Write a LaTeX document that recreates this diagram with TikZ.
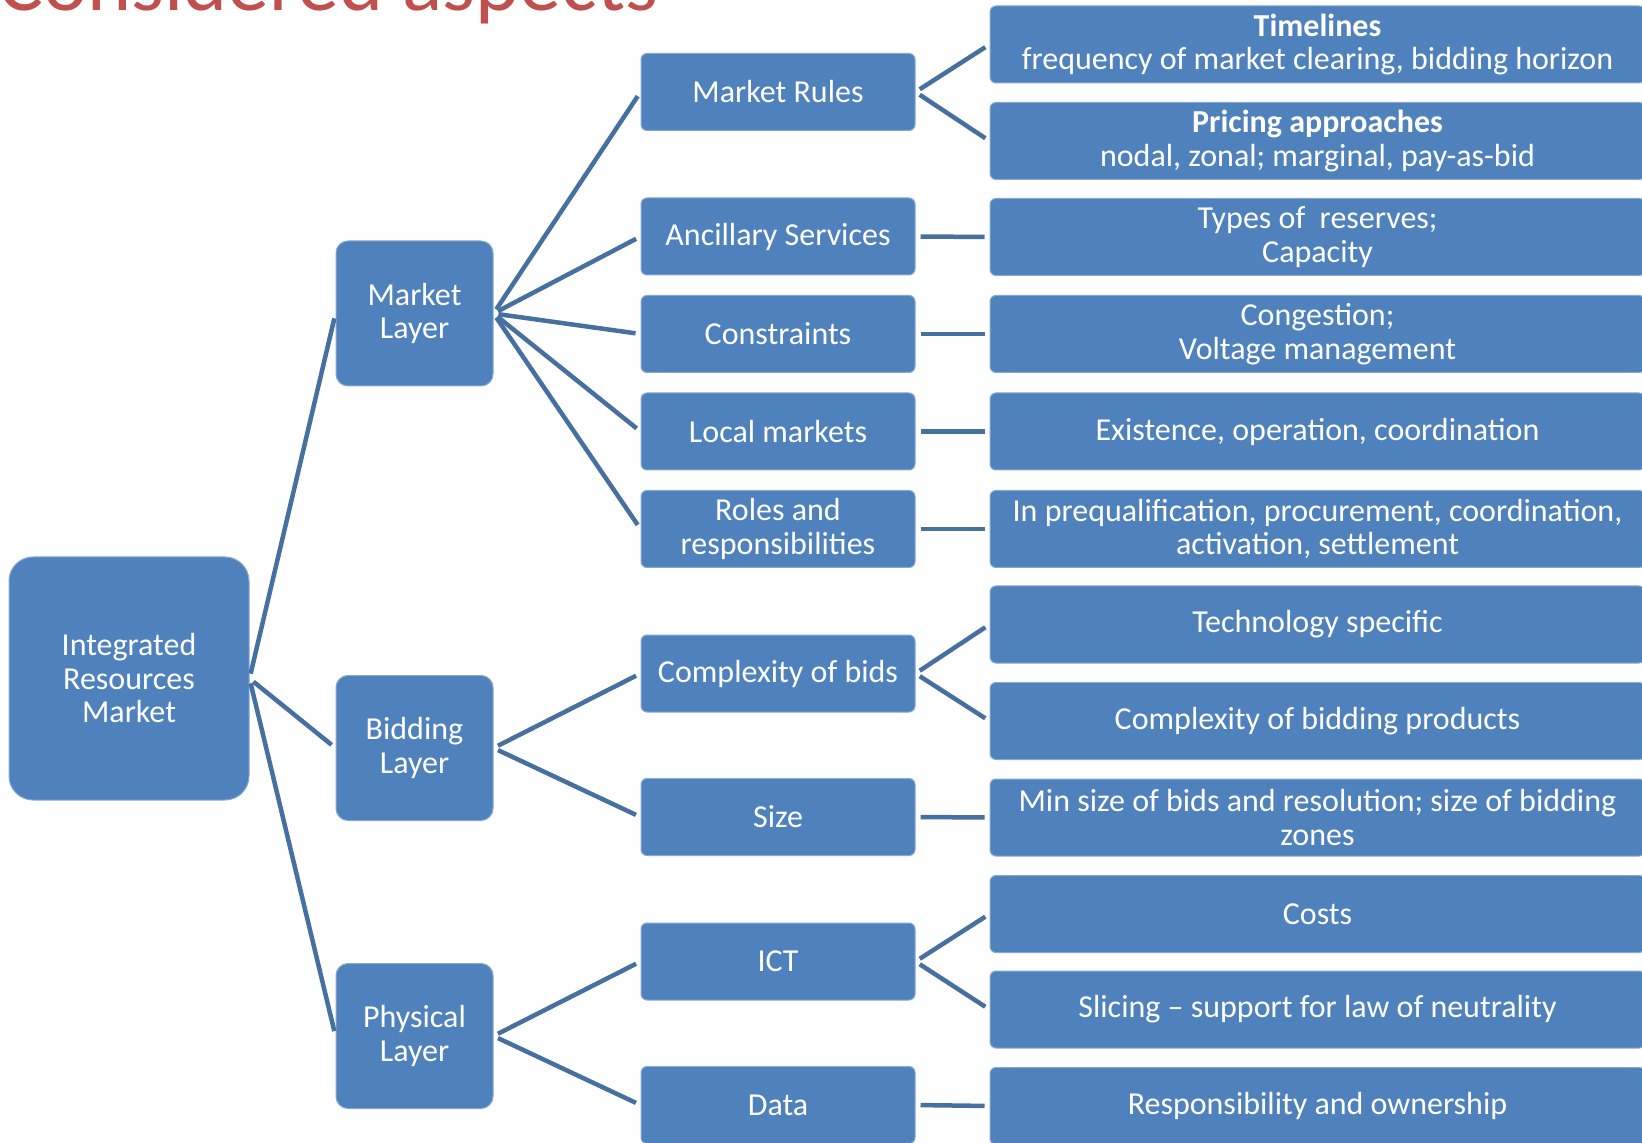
\documentclass[tikz,border=0pt]{standalone}
\usepackage{fontspec}
\setmainfont{Carlito}
\definecolor{boxblue}{HTML}{4F81BD}
\definecolor{boxedge}{HTML}{86A8D4}
\definecolor{linkblue}{HTML}{45709F}
\definecolor{titlered}{HTML}{C0504D}
\begin{document}
\begin{tikzpicture}[x=0.5pt,y=-0.5pt,
  box/.style={fill=boxblue, draw=boxedge, line width=0.5pt, rounded corners=3pt,
    text=white, align=center, inner sep=0pt,
    font=\fontsize{16}{16.75}\selectfont},
  midbox/.style={box, minimum width=137pt, minimum height=38.5pt},
  leafbox/.style={box, minimum width=327.5pt, minimum height=38.5pt},
  layerbox/.style={box, minimum width=78.5pt, minimum height=72.5pt, rounded corners=6pt},
  rootbox/.style={box, minimum width=120pt, minimum height=121.5pt, rounded corners=12pt},
  link/.style={draw=linkblue, line width=2.25pt, shorten <=2.5pt, shorten >=2.5pt}]
\useasboundingbox (0,0) rectangle (1642,1143);
\clip (0,0) rectangle (1642,1143);

% heading
\node[anchor=base west, inner sep=0pt, text=titlered,
      font=\fontsize{42}{44}\selectfont] (title) at (-2,11) {Considered aspects};

% root and layers
\node[rootbox] (irm) at (129,678.5) {Integrated\\Resources\\Market};
\node[layerbox] (ml) at (414.5,313.5) {Market\\Layer};
\node[layerbox] (bl) at (414.5,748) {Bidding\\Layer};
\node[layerbox] (pl) at (414.5,1036) {Physical\\Layer};

% aspects
\node[midbox] (mr)  at (778,92)    {Market Rules};
\node[midbox] (anc) at (778,236.5) {Ancillary Services};
\node[midbox] (con) at (778,334)   {Constraints};
\node[midbox] (loc) at (778,431.5) {Local markets};
\node[midbox] (rol) at (778,529)   {Roles and\\responsibilities};
\node[midbox] (cob) at (778,673.5) {Complexity of bids};
\node[midbox] (siz) at (778,817)   {Size};
\node[midbox] (ict) at (778,961.5) {ICT};
\node[midbox] (dat) at (778,1105)  {Data};

% details
\node[leafbox] (tim) at (1317.5,44.5)  {\textbf{Timelines}\\frequency of market clearing, bidding horizon};
\node[leafbox] (pri) at (1317.5,141)   {\textbf{Pricing approaches}\\nodal, zonal; marginal, pay-as-bid};
\node[leafbox] (typ) at (1317.5,237)   {Types of\ \ reserves;\\Capacity};
\node[leafbox] (cng) at (1317.5,334)   {Congestion;\\Voltage management};
\node[leafbox] (exi) at (1317.5,431.5) {Existence, operation, coordination};
\node[leafbox] (pre) at (1317.5,529)   {In prequalification, procurement, coordination,\\activation, settlement};
\node[leafbox] (tec) at (1317.5,624.5) {Technology specific};
\node[leafbox] (cbp) at (1317.5,721)   {Complexity of bidding products};
\node[leafbox] (msz) at (1317.5,817.5) {Min size of bids and resolution; size of bidding\\zones};
\node[leafbox] (cos) at (1317.5,914)   {Costs};
\node[leafbox] (sli) at (1317.5,1009.5){Slicing -- support for law of neutrality};
\node[leafbox] (res) at (1317.5,1106)  {Responsibility and ownership};

% connectors
\foreach \c in {ml,bl,pl} \draw[link] (irm.east) -- (\c.west);
\foreach \c in {mr,anc,con,loc,rol} \draw[link] (ml.east) -- (\c.west);
\foreach \c in {cob,siz} \draw[link] (bl.east) -- (\c.west);
\foreach \c in {ict,dat} \draw[link] (pl.east) -- (\c.west);
\foreach \c in {tim,pri} \draw[link] (mr.east) -- (\c.west);
\draw[link] (anc.east) -- (typ.west);
\draw[link] (con.east) -- (cng.west);
\draw[link] (loc.east) -- (exi.west);
\draw[link] (rol.east) -- (pre.west);
\foreach \c in {tec,cbp} \draw[link] (cob.east) -- (\c.west);
\draw[link] (siz.east) -- (msz.west);
\foreach \c in {cos,sli} \draw[link] (ict.east) -- (\c.west);
\draw[link] (dat.east) -- (res.west);
\end{tikzpicture}
\end{document}
